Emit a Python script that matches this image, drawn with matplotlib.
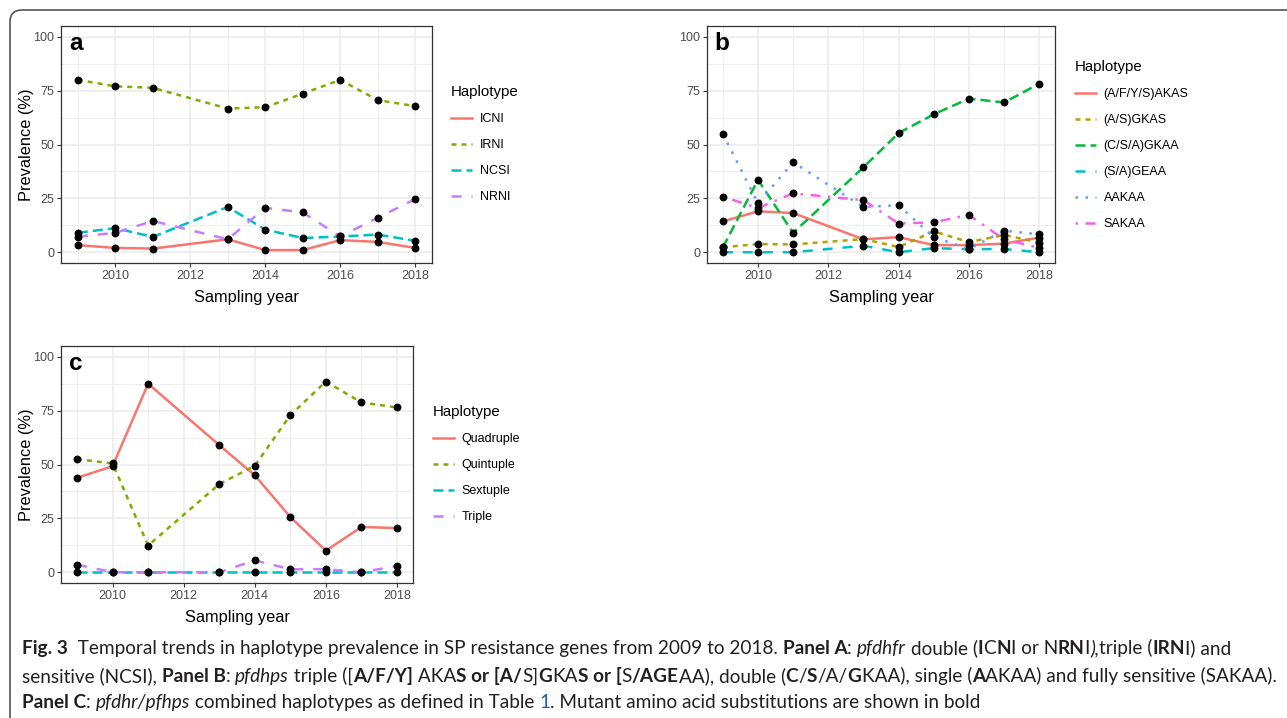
import matplotlib
matplotlib.use("Agg")
import matplotlib.pyplot as plt
from matplotlib.patches import FancyBboxPatch
from matplotlib.lines import Line2D

# ---------------- data ----------------
years = [2009, 2010, 2011, 2013, 2014, 2015, 2016, 2017, 2018]

a_labels = ["ICNI", "IRNI", "NCSI", "NRNI"]
a_icni = [3.3, 2.0, 1.7, 6.0, 1.0, 1.0, 5.6, 4.8, 2.0]
a_irni = [80.0, 77.0, 76.3, 66.7, 67.3, 73.6, 80.0, 70.6, 67.8]
a_ncsi = [9.0, 11.2, 7.1, 21.0, 10.5, 6.6, 7.3, 8.2, 5.3]
a_nrni = [7.2, 9.0, 14.5, 6.0, 20.6, 18.5, 7.3, 16.0, 24.6]

b_labels = ["(A/F/Y/S)AKAS", "(A/S)GKAS", "(C/S/A)GKAA", "(S/A)GEAA", "AAKAA", "SAKAA"]
b_afys = [14.3, 19.0, 18.2, 6.0, 7.0, 3.3, 3.3, 4.0, 6.8]
b_as = [2.3, 3.8, 3.6, 6.1, 2.4, 9.7, 4.7, 8.0, 4.5]
b_csa = [2.2, 33.6, 9.0, 39.4, 55.3, 64.0, 71.3, 69.5, 78.2]
b_sa = [0.0, 0.0, 0.0, 3.0, 0.0, 1.9, 1.4, 1.5, 0.0]
b_aakaa = [55.0, 22.7, 41.7, 21.0, 21.8, 7.0, 1.5, 10.0, 8.3]
b_sakaa = [25.8, 20.5, 27.3, 24.2, 13.3, 13.9, 17.3, 6.0, 2.0]

c_labels = ["Quadruple", "Quintuple", "Sextuple", "Triple"]
c_quad = [43.8, 49.2, 87.5, 59.0, 45.0, 25.6, 10.0, 21.0, 20.5]
c_quint = [52.5, 50.5, 12.4, 40.9, 49.4, 72.9, 88.5, 78.8, 76.5]
c_sext = [0.0, 0.0, 0.0, 0.0, 0.0, 0.0, 0.0, 0.0, 0.0]
c_triple = [3.5, 0.0, 0.0, 0.0, 5.5, 1.4, 1.4, 0.0, 2.9]

y_ticks = [0, 25, 50, 75, 100]
x_ticks = [2010, 2012, 2014, 2016, 2018]

# ---------------- styles ----------------
pal4 = ["#F8766D", "#7CAE00", "#00BFC4", "#C77CFF"]
pal6 = ["#F8766D", "#B79F00", "#00BA38", "#00BFC4", "#619CFF", "#F564E3"]
lts = ["-", (0, (2, 2)), (0, (4, 2)), (0, (4, 4)), (0, (1, 3)), (0, (1, 3, 4, 3))]
LW = 1.8
CHART_FONT = ["Liberation Sans", "DejaVu Sans"]
plt.rcParams["font.family"] = CHART_FONT

W, H = 1287, 718
fig = plt.figure(figsize=(W / 100, H / 100), dpi=100)
fig.patch.set_facecolor("white")


def px_axes(x0, y0, x1, y1):
    return fig.add_axes([x0 / W, 1 - y1 / H, (x1 - x0) / W, (y1 - y0) / H])


def style_ax(ax, letter, ylabel=True, width_px=371):
    ax.set_xlim(2008.55, 2018.45)
    ax.set_ylim(-5, 105)
    ax.set_xticks(x_ticks)
    ax.set_yticks(y_ticks)
    ax.set_xticks([2009, 2011, 2013, 2015, 2017], minor=True)
    ax.set_yticks([12.5, 37.5, 62.5, 87.5], minor=True)
    ax.grid(True, which="major", color="#EBEBEB", lw=1.1, zorder=0)
    ax.grid(True, which="minor", color="#EBEBEB", lw=0.6, zorder=0)
    ax.set_axisbelow(True)
    for s in ax.spines.values():
        s.set_color("#333333")
        s.set_linewidth(0.9)
    ax.tick_params(which="major", length=3, width=0.8, color="#333333",
                   labelsize=9, labelcolor="#4D4D4D", pad=2)
    ax.tick_params(which="minor", length=0)
    ax.set_xlabel("Sampling year", fontsize=11.8, color="black", labelpad=6)
    if ylabel:
        ax.set_ylabel("Prevalence (%)", fontsize=11.8, color="black")
        ax.yaxis.set_label_coords(-27 / width_px, 0.5)
    ax.text(0.022, 0.975, letter, transform=ax.transAxes, fontsize=17.5,
            fontweight="bold", va="top", ha="left")


def draw_series(ax, series, labels, colors):
    handles = []
    for vals, lab, col, ls in zip(series, labels, colors, lts):
        ax.plot(years, vals, color=col, ls=ls, lw=LW, zorder=2,
                solid_capstyle="butt", dash_capstyle="butt")
        handles.append(Line2D([], [], color=col, ls=ls, lw=LW, label=lab))
    for vals in series:
        ax.scatter(years, vals, s=32, color="black", zorder=3, linewidths=0)
    return handles


def add_legend(ax, handles, x_px, y_px):
    leg = ax.legend(handles=handles, title="Haplotype", loc="upper left",
                    bbox_to_anchor=(x_px / W, 1 - y_px / H),
                    bbox_transform=fig.transFigure, frameon=False,
                    fontsize=9, title_fontsize=10.8, handlelength=1.7,
                    handletextpad=0.6, labelspacing=1.12, borderpad=0,
                    borderaxespad=0)
    leg._legend_box.align = "left"
    return leg


# panel a
ax_a = px_axes(61, 26, 432, 263)
h = draw_series(ax_a, [a_icni, a_irni, a_ncsi, a_nrni], a_labels, pal4)
style_ax(ax_a, "a", width_px=371)
add_legend(ax_a, h, 451, 85)

# panel b
ax_b = px_axes(707, 26, 1055, 263)
h = draw_series(ax_b, [b_afys, b_as, b_csa, b_sa, b_aakaa, b_sakaa], b_labels, pal6)
style_ax(ax_b, "b", ylabel=False, width_px=348)
add_legend(ax_b, h, 1075, 60)

# panel c
ax_c = px_axes(61, 346, 413, 583)
h = draw_series(ax_c, [c_quad, c_quint, c_sext, c_triple], c_labels, pal4)
style_ax(ax_c, "c", width_px=352)
add_legend(ax_c, h, 433, 405)

# outer frame
frame = FancyBboxPatch((0.10, -0.3), 13.2, 7.08 + 0.3,
                       boxstyle="round,pad=0,rounding_size=0.12",
                       transform=fig.dpi_scale_trans, fill=False,
                       edgecolor="#555555", lw=1.2, clip_on=False)
fig.patches.append(frame)

# ---------------- caption ----------------
CAP_FONT = ["Lato", "Open Sans", "DejaVu Sans"]
renderer = fig.canvas.get_renderer()

N, B, I, BL = "n", "b", "i", "blue"
cap_lines = [
    [("Fig. 3", B), ("  Temporal trends in haplotype prevalence in SP resistance genes from 2009 to 2018. ", N),
     ("Panel A", B), (": ", N), ("pfdhfr", I), (" double (", N), ("I", B), ("C", N), ("N", B),
     ("I or N", N), ("RN", B), ("I", N), ("),", I), ("triple (", N), ("IRN", B), ("I) and", N)],
    [("sensitive (NCSI), ", N), ("Panel B", B), (": ", N), ("pfdhps", I), (" triple ([", N),
     ("A/F/Y]", B), (" AKA", N), ("S or [A/", B), ("S]", N), ("G", B), ("KA", N), ("S or [", B),
     ("S", N), ("/AGE", B), ("AA), double (", N), ("C", B), ("/", N), ("S", B), ("/A/", N),
     ("G", B), ("KAA), single (", N), ("A", B), ("AKAA) and fully sensitive (SAKAA).", N)],
    [("Panel C", B), (": ", N), ("pfdhr/pfhps", I), (" combined haplotypes as defined in Table ", N),
     ("1", BL), (". Mutant amino acid substitutions are shown in bold", N)],
]
baselines = [654, 682, 708]
line_ends = [1249, 1275, 760]


def run_props(kind, size):
    d = dict(fontsize=size, family=CAP_FONT, color="#231F20")
    if kind == B:
        d["fontweight"] = "bold"
    elif kind == I:
        d["fontstyle"] = "italic"
    elif kind == BL:
        d["color"] = "#1F5FBF"
    return d


def text_width(s, props):
    t = fig.text(0, 0, s + "|", **props)
    t2 = fig.text(0, 0, "|", **props)
    w = t.get_window_extent(renderer).width - t2.get_window_extent(renderer).width
    t.remove()
    t2.remove()
    return w


# choose the caption size so that the two long lines fit their reference widths
ref_size = 10.0
sizes = []
for runs, xe in zip(cap_lines[:2], line_ends[:2]):
    wl = sum(text_width(s, run_props(k, ref_size)) for s, k in runs)
    sizes.append(ref_size * (xe - 22) / wl)
CAP_SIZE = min(sizes)

for runs, yb in zip(cap_lines, baselines):
    x = 22.0
    for s, kind in runs:
        props = run_props(kind, CAP_SIZE)
        fig.text(x / W, 1 - yb / H, s, va="baseline", ha="left", **props)
        x += text_width(s, props)

fig.savefig("out.png", dpi=100)
